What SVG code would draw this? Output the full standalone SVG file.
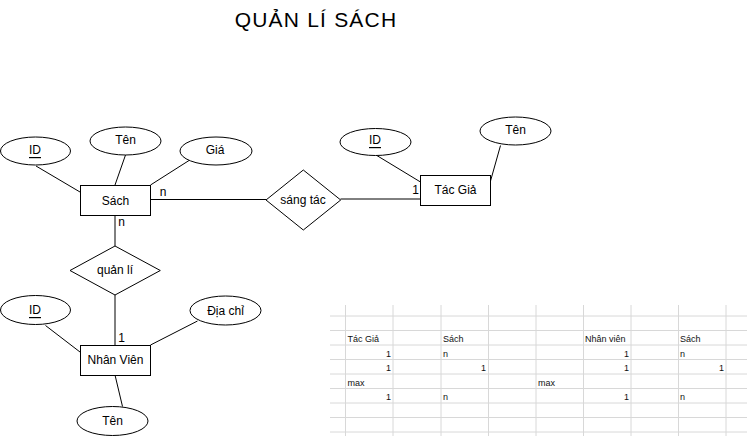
<svg xmlns="http://www.w3.org/2000/svg" width="747" height="436" viewBox="0 0 747 436">
<style>
.e{fill:#fff;stroke:#000;stroke-width:1}
.r{fill:#fff;stroke:#000;stroke-width:1}
.t{font-family:"Liberation Sans",Arial,sans-serif;font-size:12px;fill:#000;text-anchor:middle;dominant-baseline:central}
.u{text-decoration:underline}
.c{stroke:#000;stroke-width:1;fill:none}
.g{stroke:#d8d8d8;stroke-width:1}
.s{font-family:"Liberation Sans",Arial,sans-serif;font-size:9px;fill:#111}
.sr{text-anchor:end}
</style>
<rect width="747" height="436" fill="#fff"/>
<text x="316" y="27" font-family="'Liberation Sans',Arial,sans-serif" font-size="21" letter-spacing="1.2" text-anchor="middle" fill="#000">QUẢN LÍ SÁCH</text>

<g id="connectors">
<line class="c" x1="36" y1="166" x2="80" y2="192"/>
<line class="c" x1="125.5" y1="155" x2="115" y2="185"/>
<line class="c" x1="189" y1="160.5" x2="150.5" y2="185"/>
<line class="c" x1="150.5" y1="199.5" x2="266" y2="199.5"/>
<line class="c" x1="340.5" y1="199" x2="420.5" y2="199"/>
<line class="c" x1="376" y1="155" x2="420.5" y2="182"/>
<line class="c" x1="500.5" y1="145.5" x2="490.5" y2="181"/>
<line class="c" x1="115" y1="215" x2="115" y2="246"/>
<line class="c" x1="115" y1="295" x2="115" y2="345"/>
<line class="c" x1="45.5" y1="325.5" x2="80" y2="352"/>
<line class="c" x1="197.5" y1="321" x2="150.5" y2="345"/>
<line class="c" x1="115" y1="375" x2="122.5" y2="406.5"/>
<text class="t" x="163" y="191.5">n</text>
<text class="t" x="121.5" y="221.5">n</text>
<text class="t" x="415.5" y="189.5">1</text>
<text class="t" x="121.5" y="337.5">1</text>
</g>

<g id="sach">
<rect class="r" x="80.5" y="185.5" width="70" height="30"/>
<text class="t" x="115.5" y="200.5">Sách</text>
</g>
<g id="sach-id">
<ellipse class="e" cx="35.5" cy="151" rx="35" ry="14"/>
<text class="t u" x="35" y="150">ID</text>
</g>
<g id="sach-ten">
<ellipse class="e" cx="125.5" cy="141" rx="35.5" ry="14"/>
<text class="t" x="125.5" y="140">Tên</text>
</g>
<g id="sach-gia">
<ellipse class="e" cx="216" cy="151" rx="36" ry="14"/>
<text class="t" x="215" y="150">Giá</text>
</g>
<g id="sang-tac">
<polygon class="r" points="303.3,170 340.7,200 303.3,230 266,200"/>
<text class="t" x="303" y="199.5">sáng tác</text>
</g>
<g id="tac-gia">
<rect class="r" x="420.5" y="175.5" width="70" height="30"/>
<text class="t" x="455.5" y="190">Tác Giả</text>
</g>
<g id="tacgia-id">
<ellipse class="e" cx="375.5" cy="142" rx="35.5" ry="13.5"/>
<text class="t u" x="375" y="140">ID</text>
</g>
<g id="tacgia-ten">
<ellipse class="e" cx="515.5" cy="131" rx="35.5" ry="14"/>
<text class="t" x="515.5" y="130">Tên</text>
</g>
<g id="quan-li">
<polygon class="r" points="115,246 160.3,270.5 115,295 70,270.5"/>
<text class="t" x="115" y="270">quản lí</text>
</g>
<g id="nhan-vien">
<rect class="r" x="80.5" y="345.5" width="70" height="30"/>
<text class="t" x="115.5" y="360">Nhân Viên</text>
</g>
<g id="nv-id">
<ellipse class="e" cx="35.5" cy="310" rx="35" ry="14.5"/>
<text class="t u" x="35" y="310">ID</text>
</g>
<g id="nv-diachi">
<ellipse class="e" cx="225.5" cy="310.5" rx="35.5" ry="14.5"/>
<text class="t" x="225.5" y="310.5">Địa chỉ</text>
</g>
<g id="nv-ten">
<ellipse class="e" cx="112.5" cy="421" rx="35.5" ry="14.5"/>
<text class="t" x="112.5" y="420.5">Tên</text>
</g>

<g id="sheet">
<line class="g" x1="330" y1="316" x2="747" y2="316"/>
<line class="g" x1="330" y1="330.5" x2="747" y2="330.5"/>
<line class="g" x1="330" y1="345" x2="747" y2="345"/>
<line class="g" x1="330" y1="359.5" x2="747" y2="359.5"/>
<line class="g" x1="330" y1="374" x2="747" y2="374"/>
<line class="g" x1="330" y1="388.5" x2="747" y2="388.5"/>
<line class="g" x1="330" y1="403" x2="747" y2="403"/>
<line class="g" x1="330" y1="417.5" x2="747" y2="417.5"/>
<line class="g" x1="330" y1="432" x2="747" y2="432"/>
<line class="g" x1="345.5" y1="305" x2="345.5" y2="436"/>
<line class="g" x1="393" y1="305" x2="393" y2="436"/>
<line class="g" x1="441" y1="305" x2="441" y2="436"/>
<line class="g" x1="488.5" y1="305" x2="488.5" y2="436"/>
<line class="g" x1="536" y1="305" x2="536" y2="436"/>
<line class="g" x1="583.5" y1="305" x2="583.5" y2="436"/>
<line class="g" x1="631" y1="305" x2="631" y2="436"/>
<line class="g" x1="678.5" y1="305" x2="678.5" y2="436"/>
<line class="g" x1="726" y1="305" x2="726" y2="436"/>
<text class="s" x="347.5" y="342">Tác Giả</text>
<text class="s" x="443" y="342">Sách</text>
<text class="s sr" x="391" y="356.5">1</text>
<text class="s" x="443" y="356.5">n</text>
<text class="s sr" x="391" y="371">1</text>
<text class="s sr" x="486" y="371">1</text>
<text class="s" x="347.5" y="385.5">max</text>
<text class="s sr" x="391" y="400">1</text>
<text class="s" x="443" y="400">n</text>
<text class="s" x="585" y="342">Nhân viên</text>
<text class="s" x="680" y="342">Sách</text>
<text class="s sr" x="629" y="356.5">1</text>
<text class="s" x="680" y="356.5">n</text>
<text class="s sr" x="629" y="371">1</text>
<text class="s sr" x="724" y="371">1</text>
<text class="s" x="538" y="385.5">max</text>
<text class="s sr" x="629" y="400">1</text>
<text class="s" x="680" y="400">n</text>
</g>
</svg>
